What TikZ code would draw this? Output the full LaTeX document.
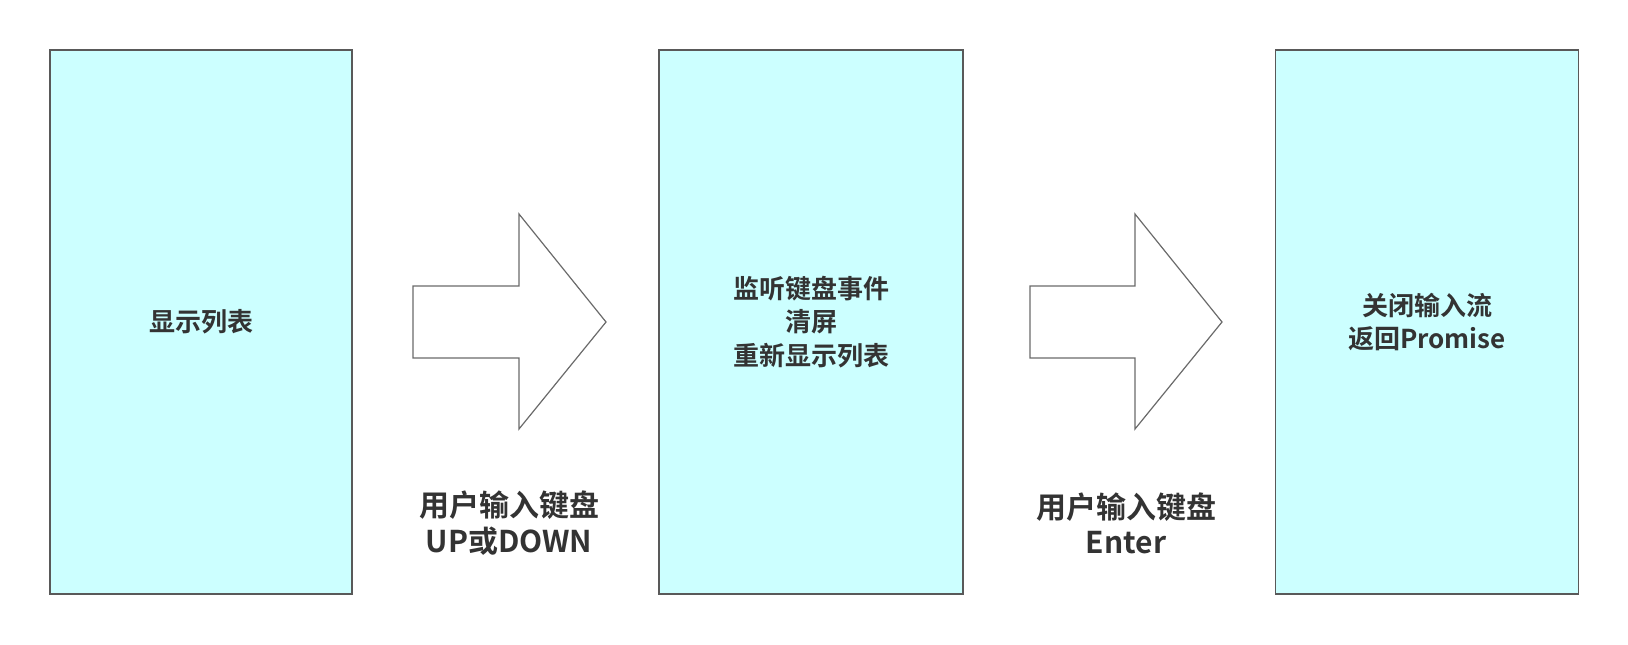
\documentclass[tikz,border=0pt]{standalone}
\usepackage{fontspec}
\setmainfont{Noto Sans CJK SC Bold}
\definecolor{boxfill}{HTML}{CCFFFF}
\definecolor{boxline}{HTML}{595959}
\definecolor{txt}{HTML}{333333}
\tikzset{
  stagebox/.style={draw=boxline,line width=1.2pt,fill=boxfill,minimum width=302*0.75pt,minimum height=544*0.75pt,inner sep=0pt,text=txt,align=center,font=\fontsize{19.5}{25.2}\selectfont},
  bigarrow/.style={draw=boxline!90!white,line width=0.9pt,fill=white},
  keylabel/.style={text=txt,align=center,font=\fontsize{22.5}{26.5}\selectfont}
}
\begin{document}
\begin{tikzpicture}[x=0.75pt,y=-0.75pt]
   \useasboundingbox (0,0) rectangle (1628,644);

   %LIST
   \node (list) [stagebox] at (201,322) {显示列表};

   %ARROW UP/DOWN
   \draw [bigarrow] (413,286) -- (519,286) -- (519,214) -- (606,322) -- (519,429) -- (519,358) -- (413,358) -- cycle;
   \node (updown) [keylabel] at (509,523) {用户输入键盘\\UP或DOWN};

   %REDRAW
   \node (redraw) [stagebox,minimum width=304*0.75pt] at (811,322) {监听键盘事件\\清屏\\重新显示列表};

   %ARROW ENTER
   \draw [bigarrow] (1030,286) -- (1135,286) -- (1135,214) -- (1222,322) -- (1135,429) -- (1135,358) -- (1030,358) -- cycle;
   \node (enter) [keylabel] at (1126,523) {用户输入键盘\\Enter};

   %CLOSE
   \node (close) [stagebox,minimum width=303*0.75pt] at (1427,322) {关闭输入流\\返回Promise};
\end{tikzpicture}
\end{document}
